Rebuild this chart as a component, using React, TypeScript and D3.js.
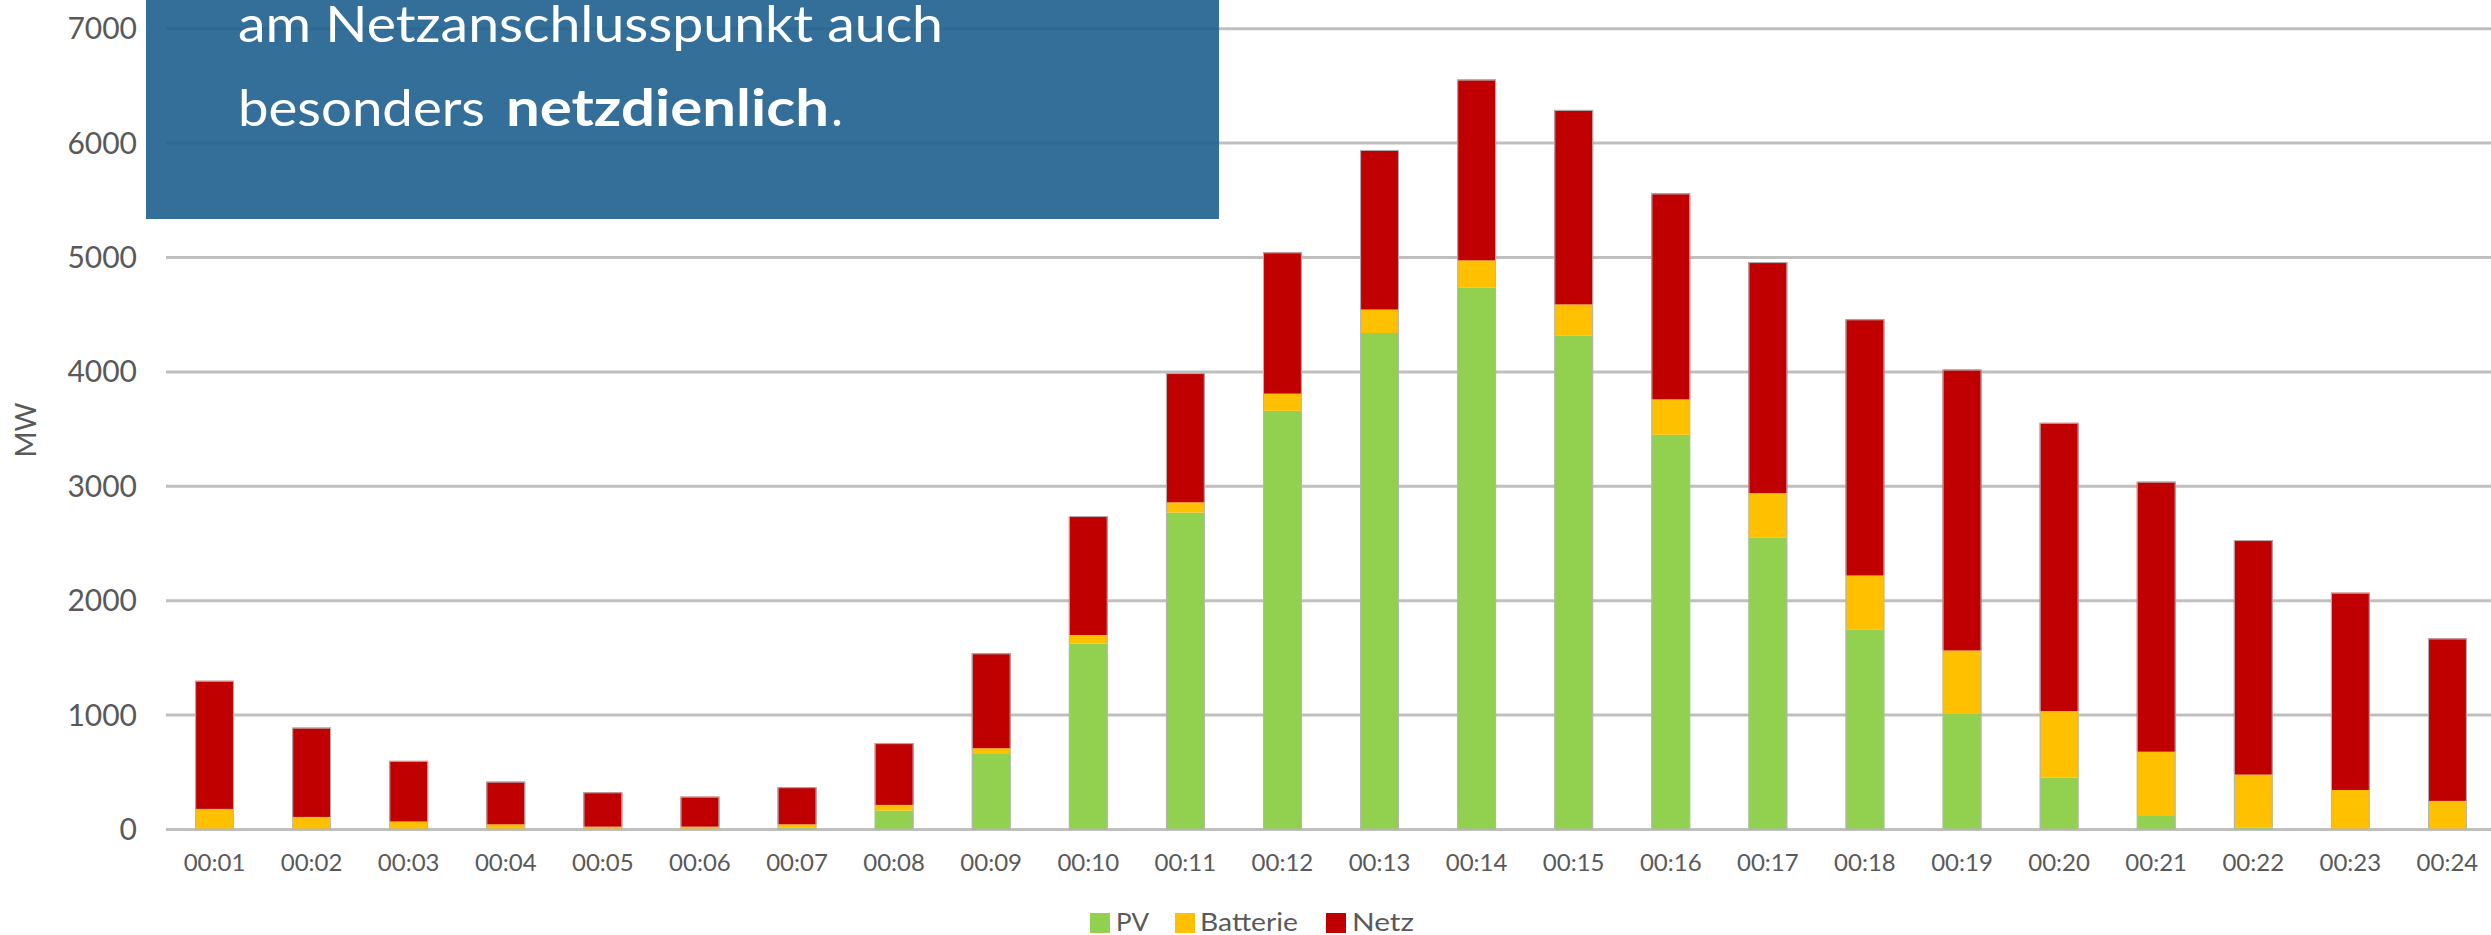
import { useEffect, useRef } from "react";
import * as d3 from "d3";

const HOURS = [
  "00:01", "00:02", "00:03", "00:04", "00:05", "00:06", "00:07", "00:08",
  "00:09", "00:10", "00:11", "00:12", "00:13", "00:14", "00:15", "00:16",
  "00:17", "00:18", "00:19", "00:20", "00:21", "00:22", "00:23", "00:24",
];
const PV = [0, 0, 0, 0, 0, 0, 15, 165, 660, 1625, 2770, 3660, 4340, 4735, 4315, 3450, 2550, 1750, 1010, 455, 125, 15, 0, 0];
const BATTERIE = [180, 110, 70, 45, 25, 25, 30, 50, 50, 75, 90, 150, 205, 240, 275, 310, 390, 470, 555, 580, 555, 465, 345, 250];
const NETZ = [1120, 780, 530, 373, 300, 262, 325, 540, 830, 1040, 1130, 1235, 1395, 1580, 1700, 1800, 2020, 2240, 2455, 2520, 2360, 2050, 1725, 1420];
const Y_TICKS = [0, 1000, 2000, 3000, 4000, 5000, 6000, 7000];

const SERIES = [
  { key: "PV", label: "PV", color: "#92d050" },
  { key: "Batterie", label: "Batterie", color: "#ffc000" },
  { key: "Netz", label: "Netz", color: "#c00000" },
];

const FONT = "Futura, 'Century Gothic', Lato, 'Open Sans', sans-serif";

export default function App() {
  const svgRef = useRef<SVGSVGElement | null>(null);

  useEffect(() => {
    if (!svgRef.current) return;
    const W = 2491;
    const H = 935;
    const left = 166, right = 2496, top = 28.7, bottom = 829.5;

    const svg = d3.select(svgRef.current);
    svg.selectAll("*").remove();
    svg.attr("width", W).attr("height", H);

    const rows = HOURS.map((h, i) => ({ hour: h, PV: PV[i], Batterie: BATTERIE[i], Netz: NETZ[i] }));

    const x = d3.scaleBand().domain(HOURS).range([left, right]).paddingInner(0.6).paddingOuter(0.3);
    const y = d3.scaleLinear().domain([0, 7000]).range([bottom, top]);

    // Grid
    svg.append("g").selectAll("line").data(Y_TICKS).join("line")
      .attr("x1", left).attr("x2", W)
      .attr("y1", (d) => y(d)).attr("y2", (d) => y(d))
      .attr("stroke", "#bfbfbf").attr("stroke-width", 3);

    // Stacked bars
    const stacked = d3.stack<any>().keys(SERIES.map((s) => s.key))(rows);
    const bars = svg.append("g");
    stacked.forEach((layer, li) => {
      bars.append("g").attr("fill", SERIES[li].color)
        .selectAll("rect").data(layer).join("rect")
        .attr("x", (d) => x(d.data.hour)!)
        .attr("width", x.bandwidth())
        .attr("y", (d) => y(d[1]))
        .attr("height", (d) => Math.max(0, y(d[0]) - y(d[1])));
    });
    // outline
    bars.append("g").selectAll("rect").data(rows).join("rect")
      .attr("x", (d) => x(d.hour)! + 0.5)
      .attr("width", x.bandwidth() - 1)
      .attr("y", (d) => y(d.PV + d.Batterie + d.Netz) + 0.5)
      .attr("height", (d) => y(0) - y(d.PV + d.Batterie + d.Netz) - 1)
      .attr("fill", "none").attr("stroke", "#b5b5b5").attr("stroke-width", 1);

    // Y axis labels
    svg.append("g").selectAll("text").data(Y_TICKS).join("text")
      .attr("x", 137).attr("y", (d) => y(d))
      .attr("dy", "0.35em")
      .attr("text-anchor", "end")
      .attr("font-family", FONT).attr("font-size", 30).attr("fill", "#595959")
      .text((d) => d);

    // X axis labels
    svg.append("g").selectAll("text").data(HOURS).join("text")
      .attr("x", (d) => x(d)! + x.bandwidth() / 2).attr("y", 871)
      .attr("text-anchor", "middle")
      .attr("font-family", FONT).attr("font-size", 24).attr("fill", "#595959")
      .text((d) => d);

    // Y title
    svg.append("text")
      .attr("transform", "translate(36,430) rotate(-90)")
      .attr("text-anchor", "middle")
      .attr("font-family", FONT).attr("font-size", 28).attr("fill", "#595959")
      .text("MW");

    // Legend
    const legendPos = [
      { sx: 1090, tx: 1116, w: 33 },
      { sx: 1175, tx: 1200, w: 98 },
      { sx: 1326, tx: 1352, w: 62 },
    ];
    const lg = svg.append("g");
    SERIES.forEach((s, i) => {
      lg.append("rect").attr("x", legendPos[i].sx).attr("y", 913).attr("width", 20).attr("height", 20).attr("fill", s.color);
      lg.append("text").attr("x", legendPos[i].tx).attr("y", 931)
        .attr("font-family", FONT).attr("font-size", 25).attr("fill", "#595959")
        .attr("textLength", legendPos[i].w).attr("lengthAdjust", "spacingAndGlyphs")
        .text(s.label);
    });

    // Callout box
    const box = svg.append("g");
    box.append("rect").attr("x", 146).attr("y", 0).attr("width", 1073).attr("height", 219)
      .attr("fill", "rgb(29,95,142)").attr("opacity", 0.9);
    box.append("text").attr("x", 238).attr("y", 42)
      .attr("font-family", FONT).attr("font-size", 51).attr("fill", "#ffffff")
      .attr("textLength", 705).attr("lengthAdjust", "spacingAndGlyphs")
      .text("am Netzanschlusspunkt auch");
    box.append("text").attr("x", 238).attr("y", 126)
      .attr("font-family", FONT).attr("font-size", 51).attr("fill", "#ffffff")
      .attr("textLength", 247).attr("lengthAdjust", "spacingAndGlyphs")
      .text("besonders");
    box.append("text").attr("x", 506).attr("y", 126)
      .attr("font-family", FONT).attr("font-size", 51).attr("font-weight", 700).attr("fill", "#ffffff")
      .attr("textLength", 323).attr("lengthAdjust", "spacingAndGlyphs")
      .text("netzdienlich");
    box.append("text").attr("x", 831).attr("y", 126)
      .attr("font-family", FONT).attr("font-size", 51).attr("fill", "#ffffff")
      .text(".");
  }, []);

  return (
    <svg ref={svgRef} style={{ position: "absolute", left: 0, top: 0, display: "block", background: "#ffffff" }} />
  );
}
